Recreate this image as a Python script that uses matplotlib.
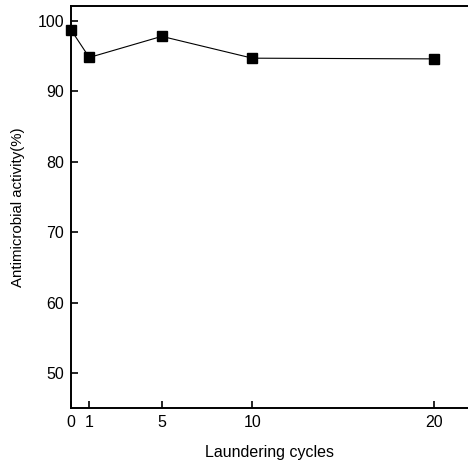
import matplotlib.pyplot as plt

plt.rcParams['font.family'] = ['Liberation Sans', 'DejaVu Sans']

cycles = [0, 1, 5, 10, 20]
activity = [98.7, 94.8, 97.8, 94.7, 94.6]
x_ticks = [0, 1, 5, 10, 20]
y_ticks = [50, 60, 70, 80, 90, 100]

fig = plt.figure(figsize=(4.68, 4.67), dpi=100)
ax = fig.add_axes([0.152, 0.126, 0.848, 0.861])

ax.plot(cycles, activity, color='black', linewidth=0.8,
        marker='s', markersize=7, markerfacecolor='black',
        markeredgecolor='black', clip_on=False)

ax.set_xlim(0, 21.9)
ax.set_ylim(45.0, 102.1)
ax.set_xticks(x_ticks)
ax.set_yticks(y_ticks)
ax.tick_params(direction='in', length=5, width=1.2, labelsize=11.5,
               top=False, right=False, pad=5)

for side in ['left', 'bottom', 'top']:
    ax.spines[side].set_linewidth(1.4)
ax.spines['right'].set_visible(False)

ax.set_xlabel('Laundering cycles', fontsize=11.5, labelpad=11)
ax.set_ylabel('Antimicrobial activity(%)', fontsize=10.8, labelpad=9)

fig.savefig('out.png', dpi=100)
